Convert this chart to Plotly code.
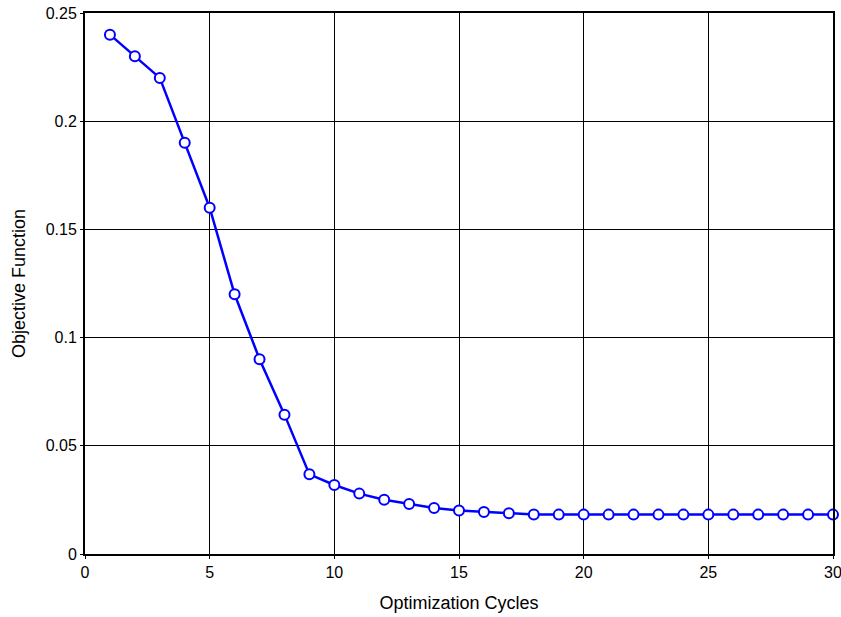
import plotly.graph_objects as go

cycles = list(range(1, 31))
objective = [0.240, 0.230, 0.220, 0.190, 0.160, 0.120, 0.090, 0.0644, 0.0368, 0.0319,
             0.0279, 0.0251, 0.0231, 0.0213, 0.0201, 0.0194, 0.0188, 0.0183, 0.0182, 0.0182,
             0.0182, 0.0182, 0.0182, 0.0182, 0.0182, 0.0182, 0.0182, 0.0182, 0.0182, 0.0182]
x_ticks = [0, 5, 10, 15, 20, 25, 30]
y_ticks = [0, 0.05, 0.1, 0.15, 0.2, 0.25]
y_tick_labels = ["0", "0.05", "0.1", "0.15", "0.2", "0.25"]

fig = go.Figure()
fig.add_trace(go.Scatter(
    x=cycles, y=objective, mode="lines+markers",
    line=dict(color="#0000FF", width=2.5),
    marker=dict(symbol="circle", size=10, color="white",
                line=dict(color="#0000FF", width=2)),
    cliponaxis=False, showlegend=False,
))

axis_common = dict(
    showline=True, linecolor="black", linewidth=2, mirror=True,
    showgrid=True, gridcolor="black", gridwidth=1,
    zeroline=False, ticks="outside", ticklen=3, tickcolor="black",
    automargin=False, ticklabeloverflow="allow",
    tickfont=dict(family="Liberation Sans, Arial", size=16, color="black"),
)

fig.update_layout(
    width=841, height=617,
    margin=dict(l=85, r=8, t=13, b=63),
    paper_bgcolor="white", plot_bgcolor="white",
    font=dict(family="Liberation Sans, Arial", size=16, color="black"),
    xaxis=dict(range=[0, 30], tickvals=x_ticks,
               title=dict(text="Optimization Cycles", standoff=16,
                          font=dict(size=18)), **axis_common),
    yaxis=dict(range=[0, 0.25], tickvals=y_ticks, ticktext=y_tick_labels,
               title=dict(text="Objective Function", standoff=15,
                          font=dict(size=18)), **axis_common),
)

fig.write_html("out.html")
